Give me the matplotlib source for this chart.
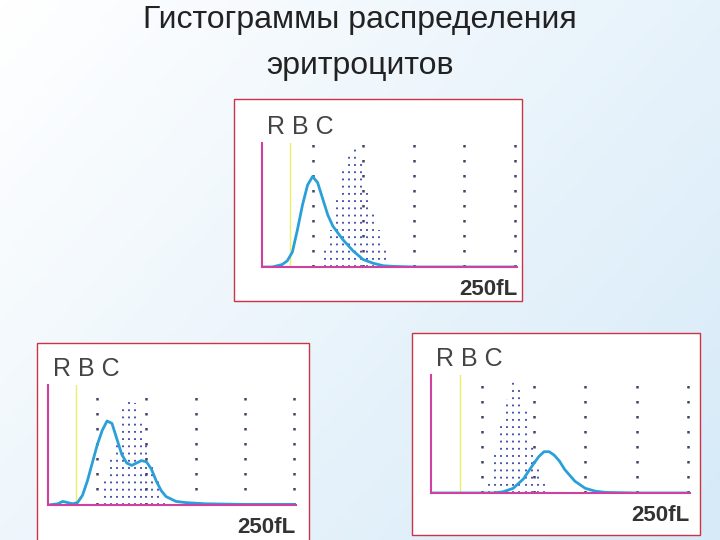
import numpy as np
import matplotlib.pyplot as plt
from matplotlib.patches import Rectangle
from matplotlib.colors import LinearSegmentedColormap

plt.rcParams['font.family'] = ['Liberation Sans', 'DejaVu Sans']

# patient curves (volume fL, relative count)
x1 = [0, 10, 20, 25, 30, 35, 40, 45, 50, 55, 60, 65, 70, 80, 90, 100, 110, 120, 130, 150, 200, 250]
y1 = [0, 0, .02, .05, .12, .3, .5, .66, .73, .68, .55, .42, .33, .22, .13, .06, .03, .01, .005, 0, 0, 0]
x2 = [0, 10, 15, 20, 25, 30, 35, 40, 45, 50, 55, 60, 65, 70, 75, 80, 85, 90, 95, 100,
      105, 110, 115, 120, 130, 140, 160, 200, 250]
y2 = [0, .01, .03, .02, .01, .02, .08, .2, .35, .5, .62, .7, .68, .55, .42, .35, .33, .35, .37, .36,
      .3, .2, .12, .07, .03, .02, .01, .005, .005]
x3 = [0, 60, 70, 80, 90, 100, 105, 110, 115, 120, 125, 130, 140, 150, 160, 170, 200, 250]
y3 = [0, 0, .01, .04, .12, .25, .31, .35, .35, .32, .27, .2, .1, .04, .015, .005, 0, 0]

# normal reference histogram (dotted columns)
rx1 = [62, 68, 74, 80, 86, 92, 98, 104, 110, 116, 122, 128]
ry1 = [.15, .3, .55, .8, .92, .95, .85, .6, .45, .3, .15, .05]
rx2 = [58, 64, 70, 76, 82, 88, 94, 100, 106, 112, 118]
ry2 = [.2, .4, .6, .8, .9, .85, .7, .5, .35, .2, .05]
rx3 = [56, 62, 68, 74, 80, 86, 92, 98, 104, 110]
ry3 = [.1, .35, .6, .8, .95, .9, .7, .4, .2, .08]

grid_x = [50, 100, 150, 200, 250]

fig = plt.figure(figsize=(7.2, 5.4), dpi=100)
W, H = 720, 540

# background gradient (white top-left to pale blue bottom-right)
bg = fig.add_axes([0, 0, 1, 1])
gx, gy = np.meshgrid(np.linspace(0, 1, 200), np.linspace(0, 1, 150))
bg.imshow(0.6 * gx + 0.4 * gy, aspect='auto', extent=[0, 1, 0, 1], origin='upper',
          cmap=LinearSegmentedColormap.from_list('bg', ['#ffffff', '#d6eaf8']))
bg.axis('off')

fig.text(0.5, 1 - 20 / H, 'Гистограммы распределения', ha='center', va='center', fontsize=23, color='#222222')
fig.text(0.5, 1 - 66 / H, 'эритроцитов', ha='center', va='center', fontsize=23, color='#222222')


def panel(box, ax_px, x, y, rx, ry):
    bx0, by0, bx1, by1 = box
    fig.patches.append(Rectangle((bx0 / W, 1 - by1 / H), (bx1 - bx0) / W, (by1 - by0) / H,
                                 transform=fig.transFigure, facecolor='white',
                                 edgecolor='#cc3344', lw=1, zorder=1))
    ax0, ay0, ax1, ay1 = ax_px
    ax = fig.add_axes([ax0 / W, 1 - ay1 / H, (ax1 - ax0) / W, (ay1 - ay0) / H], zorder=2)
    ax.patch.set_alpha(0)
    ax.set_xlim(0, 252)
    ax.set_ylim(0, 1)
    for s in ['top', 'right']:
        ax.spines[s].set_visible(False)
    for s in ['left', 'bottom']:
        ax.spines[s].set_color('#d040a0')
        ax.spines[s].set_linewidth(1.5)
    ax.set_xticks([])
    ax.set_yticks([])
    ax.axvline(28, color='#eeee66', lw=1)
    for g in grid_x:
        ax.axvline(g, color='#444466', lw=1.8, ls=(0, (1, 5)))
    ax.vlines(rx, 0, ry, colors='#3344aa', lw=1.3, linestyles=(0, (1, 3)))
    ax.plot(x, y, color='#2a9fd8', lw=2)
    ax.text(0.02, 1.03, 'R B C', transform=ax.transAxes, fontsize=18, color='#444444', va='bottom')
    ax.text(1.0, -0.1, '250fL', transform=ax.transAxes, fontsize=16, color='#333333',
            ha='right', va='top', fontweight='bold')


panel((234, 99, 522, 301), (262, 143, 517, 267), x1, y1, rx1, ry1)
panel((37, 343, 309, 545), (48, 385, 296, 505), x2, y2, rx2, ry2)
panel((412, 333, 700, 535), (431, 375, 690, 493), x3, y3, rx3, ry3)

fig.savefig('out.png', dpi=100)
